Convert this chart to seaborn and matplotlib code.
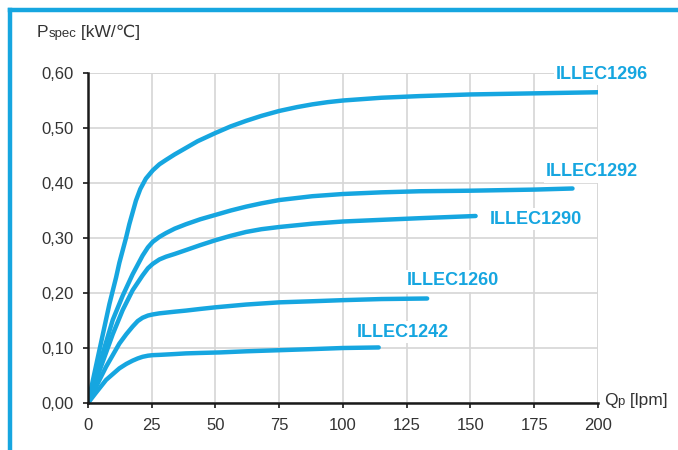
import pandas as pd
import numpy as np
import matplotlib
matplotlib.use("Agg")
from matplotlib import pyplot as plt
from matplotlib.lines import Line2D
import seaborn as sns

# === Data ===
models = ["ILLEC1296", "ILLEC1292", "ILLEC1290", "ILLEC1260", "ILLEC1242"]

q_1296 = [0, 4, 8.4, 11, 12.3, 14.9, 16.2, 18.8, 20.5, 22.7, 25.4, 28, 30.6, 34, 37, 43, 50,
          56, 62, 68, 75, 82, 88, 94, 100, 115, 130, 150, 175, 200]
p_1296 = [0, 0.086, 0.18, 0.228, 0.255, 0.3, 0.325, 0.368, 0.389, 0.408, 0.423, 0.434, 0.442,
          0.452, 0.46, 0.476, 0.491, 0.503, 0.513, 0.522, 0.531, 0.538, 0.543, 0.547, 0.55,
          0.555, 0.558, 0.561, 0.563, 0.565]

q_1292 = [0, 5, 9.7, 13.6, 17.5, 21.4, 23.5, 25.4, 28, 30.6, 34, 38.4, 44, 50, 56, 62, 68, 75,
          88, 100, 115, 130, 150, 175, 190]
p_1292 = [0, 0.078, 0.151, 0.195, 0.234, 0.268, 0.283, 0.293, 0.302, 0.309, 0.317, 0.325, 0.334,
          0.342, 0.35, 0.357, 0.363, 0.369, 0.376, 0.38, 0.383, 0.385, 0.386, 0.388, 0.39]

q_1290 = [0, 5, 9.7, 13.6, 17.5, 21.4, 23.5, 25.4, 28, 30.6, 34, 38.4, 44, 50, 56, 62, 68, 75,
          88, 100, 115, 130, 152]
p_1290 = [0, 0.065, 0.125, 0.169, 0.205, 0.232, 0.245, 0.253, 0.261, 0.266, 0.271, 0.278, 0.287,
          0.296, 0.304, 0.311, 0.316, 0.32, 0.326, 0.33, 0.333, 0.336, 0.34]

q_1260 = [0, 3, 7.1, 12.3, 15, 17.5, 19.5, 21.4, 23.5, 25.4, 28, 30, 34, 38.4, 44, 50, 62, 75,
          88, 100, 115, 133]
p_1260 = [0, 0.028, 0.066, 0.108, 0.125, 0.139, 0.149, 0.155, 0.159, 0.161, 0.163, 0.164, 0.166,
          0.168, 0.171, 0.174, 0.179, 0.183, 0.185, 0.187, 0.189, 0.19]

q_1242 = [0, 3, 7.1, 12.3, 15, 17.5, 19.5, 21.4, 23.5, 25.4, 28, 30, 34, 38.4, 44, 52, 62, 75,
          88, 100, 114]
p_1242 = [0, 0.018, 0.042, 0.063, 0.071, 0.077, 0.081, 0.084, 0.086, 0.087, 0.0875, 0.088,
          0.089, 0.0902, 0.091, 0.092, 0.094, 0.096, 0.098, 0.1, 0.101]

# label anchor (left edge, vertical centre) in data units
label_q = [183.5, 179.6, 157.6, 125.1, 105.5]
label_p = [0.598, 0.42, 0.3345, 0.222, 0.129]

x_ticks = [0, 25, 50, 75, 100, 125, 150, 175, 200]
y_ticks = [0.0, 0.1, 0.2, 0.3, 0.4, 0.5, 0.6]
y_tick_labels = ["0,00", "0,10", "0,20", "0,30", "0,40", "0,50", "0,60"]

series = {
    "ILLEC1296": (q_1296, p_1296),
    "ILLEC1292": (q_1292, p_1292),
    "ILLEC1290": (q_1290, p_1290),
    "ILLEC1260": (q_1260, p_1260),
    "ILLEC1242": (q_1242, p_1242),
}
df = pd.concat(
    [pd.DataFrame({"Qp": q, "Pspec": p, "model": m}) for m, (q, p) in series.items()],
    ignore_index=True,
)

# === Style ===
sns.set_style("white")
plt.rcParams["font.family"] = ["Liberation Sans", "DejaVu Sans"]
plt.rcParams["lines.solid_joinstyle"] = "round"
plt.rcParams["lines.solid_capstyle"] = "round"

BLUE = "#16a6e0"
W, H = 678, 450
fig = plt.figure(figsize=(W / 100, H / 100), dpi=100)
ax = fig.add_axes([88 / W, 47 / H, 510 / W, 330 / H])

sns.lineplot(data=df, x="Qp", y="Pspec", units="model", estimator=None,
             color=BLUE, linewidth=3.2, sort=False, ax=ax, legend=False)

ax.set_xlim(0, 200)
ax.set_ylim(0, 0.6)
ax.set_xticks(x_ticks)
ax.set_yticks(y_ticks)
ax.set_yticklabels(y_tick_labels)
ax.set_xlabel("")
ax.set_ylabel("")
ax.grid(True, color="#d6d6d6", linewidth=1.2)
ax.set_axisbelow(True)
for s in ["top", "right"]:
    ax.spines[s].set_visible(False)
for s in ["left", "bottom"]:
    ax.spines[s].set_color("#1a1a1a")
    ax.spines[s].set_linewidth(1.8)
ax.tick_params(axis="both", direction="out", length=3.5, width=1.2, color="#1a1a1a",
               labelsize=12, labelcolor="#333333", pad=7, left=True, bottom=True)

# top / right frame lines drawn as grid lines
ax.axhline(0.6, color="#d6d6d6", linewidth=1.2, zorder=0.5)
ax.axvline(200, color="#d6d6d6", linewidth=1.2, zorder=0.5)

# model labels
for m, lq, lp in zip(models, label_q, label_p):
    ax.text(lq, lp, m, color=BLUE, fontsize=13, fontweight="bold", ha="left", va="center",
            bbox=dict(facecolor="white", edgecolor="none", pad=1.5), zorder=5)

# axis titles with small subscript parts
renderer = fig.canvas.get_renderer()

def chain_text(x_px, y_px, parts):
    x = x_px
    for s, size in parts:
        t = fig.text(x / W, y_px / H, s, fontsize=size, color="#333333",
                     ha="left", va="baseline")
        x = t.get_window_extent(renderer).x1

chain_text(37, 413, [("P", 12.5), ("spec", 9.5), (" [kW/\u2103]", 12.5)])
chain_text(604, 45, [("Q", 12.5), ("p", 9.5), (" [lpm]", 12.5)])

# blue border at top and left
fig.add_artist(Line2D([10 / W, 10 / W], [0, 1 - 10 / H], transform=fig.transFigure,
                      color=BLUE, linewidth=3.2, solid_capstyle="projecting"))
fig.add_artist(Line2D([10 / W, 1], [1 - 10 / H, 1 - 10 / H], transform=fig.transFigure,
                      color=BLUE, linewidth=3.2, solid_capstyle="projecting"))

fig.savefig("out.png", dpi=100)
